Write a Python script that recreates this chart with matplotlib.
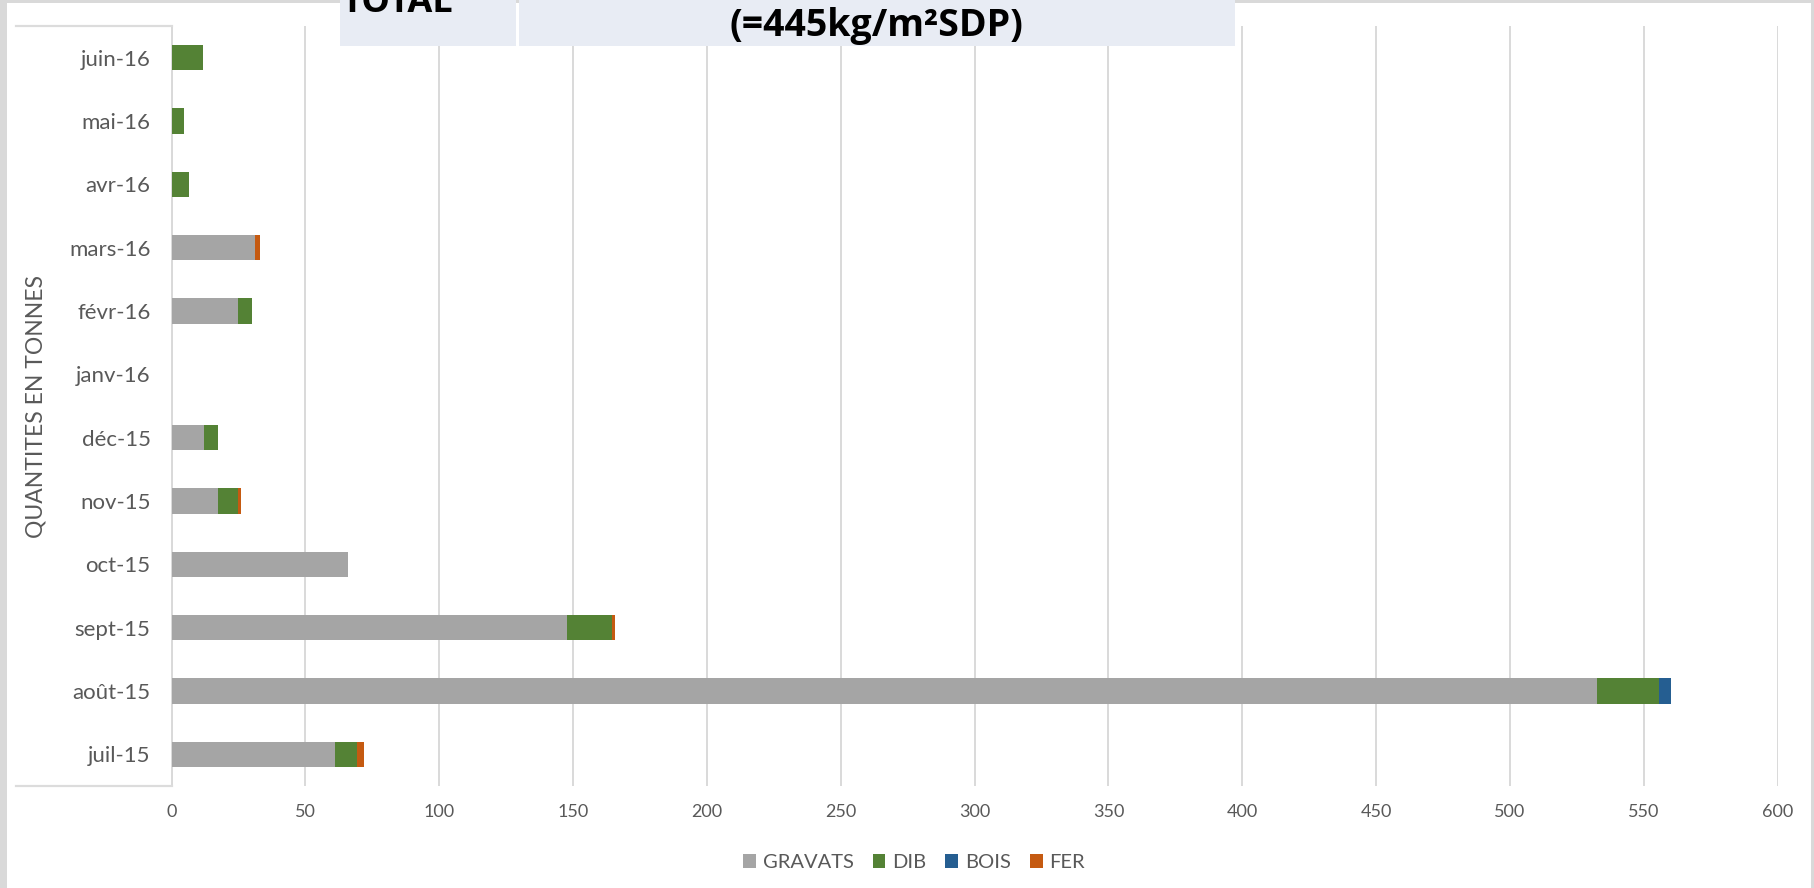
import matplotlib
matplotlib.use("Agg")
import matplotlib.pyplot as plt
from matplotlib.patches import Rectangle
from matplotlib.lines import Line2D
import numpy as np

# Monthly waste quantities (tonnes), bottom to top
months = ['juil-15', 'août-15', 'sept-15', 'oct-15', 'nov-15', 'déc-15',
          'janv-16', 'févr-16', 'mars-16', 'avr-16', 'mai-16', 'juin-16']
gravats = [61.1, 532.4, 147.6, 66.0, 17.4, 12.3, 0, 24.8, 31.1, 0, 0, 0]
dib = [8.2, 23.1, 17.0, 0, 7.5, 5.1, 0, 5.4, 0, 6.6, 4.7, 11.6]
bois = [0, 4.5, 0, 0, 0, 0, 0, 0, 0, 0, 0, 0]
fer = [2.7, 0, 1.2, 0, 0.9, 0, 0, 0, 1.9, 0, 0, 0]

series_names = ['GRAVATS', 'DIB', 'BOIS', 'FER']
series_values = [gravats, dib, bois, fer]
series_colors = ['#a5a5a5', '#548235', '#255e91', '#c55a11']
x_ticks = [0, 50, 100, 150, 200, 250, 300, 350, 400, 450, 500, 550, 600]

W, H = 1814, 888
plt.rcParams['font.family'] = ['Lato', 'DejaVu Sans']
fig = plt.figure(figsize=(W / 100, H / 100), dpi=100)
fig.patch.set_facecolor('white')

# page chrome around the chart
grey = '#d9d9d9'
fig.add_artist(Rectangle((0, 1 - 3 / H), 1, 3 / H, transform=fig.transFigure,
                         color=grey, lw=0, zorder=0))
fig.add_artist(Rectangle((0, 0), 7 / W, 1, transform=fig.transFigure,
                         color=grey, lw=0, zorder=0))
fig.add_artist(Rectangle((1 - 3 / W, 0), 3 / W, 1, transform=fig.transFigure,
                         color=grey, lw=0, zorder=0))

# y label panel edges
for yp in (26, 786):
    fig.add_artist(Line2D([16 / W, 171.5 / W], [1 - yp / H, 1 - yp / H],
                          transform=fig.transFigure, color='#dcdcdc', lw=1.6))

left, right = 171.5 / W, 1777.7 / W
bottom, top = 1 - 786 / H, 1 - 26 / H
ax = fig.add_axes([left, bottom, right - left, top - bottom])

y = np.arange(len(months))
base = np.zeros(len(months))
handles = []
for name, vals, col in zip(series_names, series_values, series_colors):
    v = np.array(vals, dtype=float)
    b = ax.barh(y, v, left=base, height=0.4, color=col, label=name, zorder=3)
    base += v
    handles.append(b)

ax.set_xlim(0, 600)
ax.set_ylim(-0.5, len(months) - 0.5)
ax.set_xticks(x_ticks)
ax.set_yticks(y)
ax.set_yticklabels(months)
ax.grid(axis='x', color=grey, lw=1.4, zorder=0)
ax.set_axisbelow(True)
for s in ('top', 'right', 'bottom'):
    ax.spines[s].set_visible(False)
ax.spines['left'].set_color(grey)
ax.spines['left'].set_linewidth(1.4)
ax.tick_params(axis='y', length=0, pad=15, labelsize=16, labelcolor='#595959')
ax.tick_params(axis='x', length=0, pad=13, labelsize=13, labelcolor='#595959')

ax.set_ylabel('QUANTITES EN TONNES', fontsize=16.5, color='#595959')
ax.yaxis.set_label_coords((47 - 171.5) / (1777.7 - 171.5), 0.5)

leg = fig.legend(handles=handles, labels=series_names, loc='center',
                 bbox_to_anchor=(914 / W, 1 - 862.5 / H), ncol=4, frameon=False,
                 fontsize=14.5, handlelength=0.64, handleheight=0.74,
                 handletextpad=0.33, columnspacing=0.95, labelcolor='#595959')

# header boxes
box_col = '#e8ecf4'
fig.add_artist(Rectangle((340 / W, 1 - 46 / H), (516 - 340) / W, 46 / H,
                         transform=fig.transFigure, color=box_col, lw=0, zorder=5))
fig.add_artist(Rectangle((518.5 / W, 1 - 46 / H), (1235 - 518.5) / W, 46 / H,
                         transform=fig.transFigure, color=box_col, lw=0, zorder=5))
fig.text(341 / W, 1 - 12 / H, 'TOTAL', fontsize=26, fontweight='bold',
         family=['Open Sans', 'DejaVu Sans'], color='black',
         ha='left', va='baseline', zorder=6)
fig.text(876 / W, 1 - 26 / H, '(=445kg/m²SDP)', fontsize=27, fontweight='bold',
         family=['Open Sans', 'DejaVu Sans'], color='black',
         ha='center', va='center', zorder=6)

fig.savefig('out.png', dpi=100, facecolor='white')
